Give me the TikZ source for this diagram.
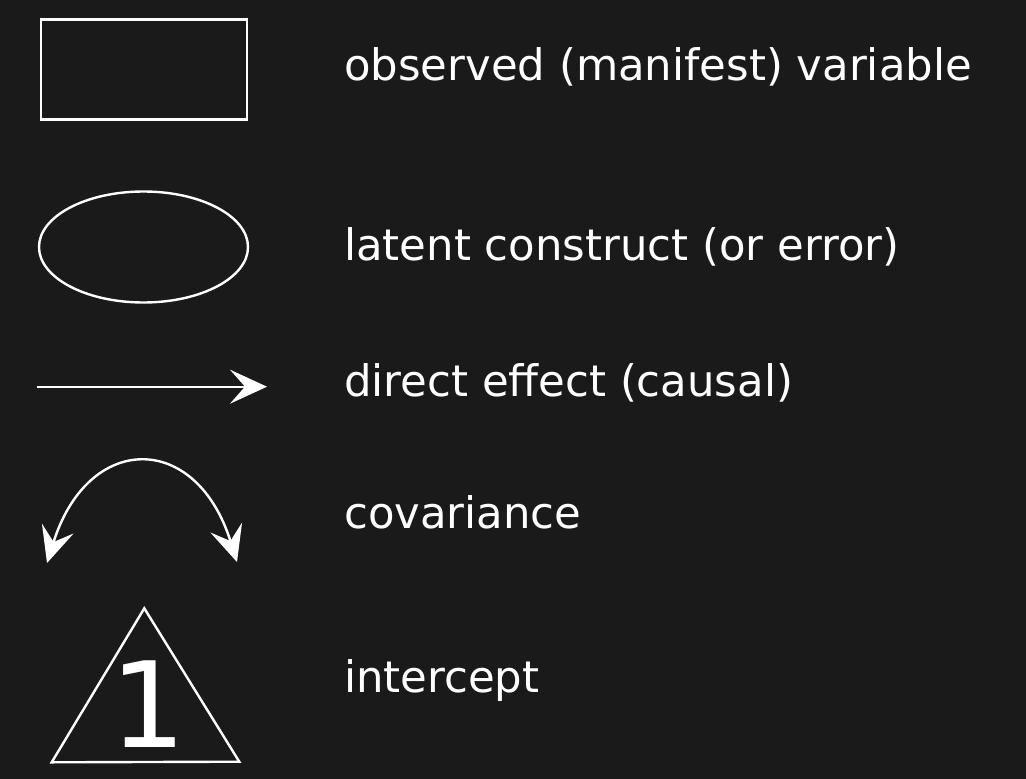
\documentclass[tikz,border=0pt]{standalone}
\usepackage{fontspec}
\setmainfont{DejaVu Sans}
\usetikzlibrary{shapes.geometric,arrows.meta}
\definecolor{bgdark}{RGB}{26,26,26}

\begin{document}
\begin{tikzpicture}[x=1pt,y=-1pt,
 symbol/.style={draw=white,line width=2.4pt,inner sep=0pt},
 legendtext/.style={text=white,anchor=base west,inner sep=0pt,
        font=\fontsize{43.4}{52}\selectfont},
 effect/.style={white,line width=2.4pt,
        -{Stealth[length=37pt,width=34pt,inset=15pt]}}]

\fill[bgdark] (0,0) rectangle (1026,779);

% symbols
\node[symbol,rectangle,minimum width=206pt,minimum height=100pt] (obs) at (144,69.3) {};
\node[symbol,ellipse,minimum width=209pt,minimum height=111pt] (lat) at (143.5,247) {};

\coordinate (dirA) at (37,386.7);
\coordinate (dirB) at (267,386.7);
\draw[effect] (dirA) -- (dirB);

\coordinate (covL) at (47,563);
\coordinate (covR) at (237,562);
\draw[effect,{Stealth[length=36pt,width=33pt,inset=14pt]}-{Stealth[length=36pt,width=33pt,inset=14pt]}]
 (covL) .. controls (88,432) and (196,431) .. (covR);

\coordinate (icpT) at (144.3,608.3);
\coordinate (icpL) at (51.7,762.3);
\coordinate (icpR) at (239.3,761.7);
\draw[white,line width=2.4pt,line join=miter] (icpT) -- (icpL) -- (icpR) -- cycle;
\node[text=white,anchor=base,inner sep=0pt,font=\fontsize{119}{130}\selectfont] (one) at (148,747) {1};

% labels
\node[legendtext] (obsT) at (344,80) {observed (manifest) variable};
\node[legendtext] (latT) at (344,260) {latent construct (or error)};
\node[legendtext] (dirT) at (344,396) {direct effect (causal)};
\node[legendtext] (covT) at (344,528.5) {covariance};
\node[legendtext] (icpT2) at (344,692.5) {intercept};
\end{tikzpicture}
\end{document}
